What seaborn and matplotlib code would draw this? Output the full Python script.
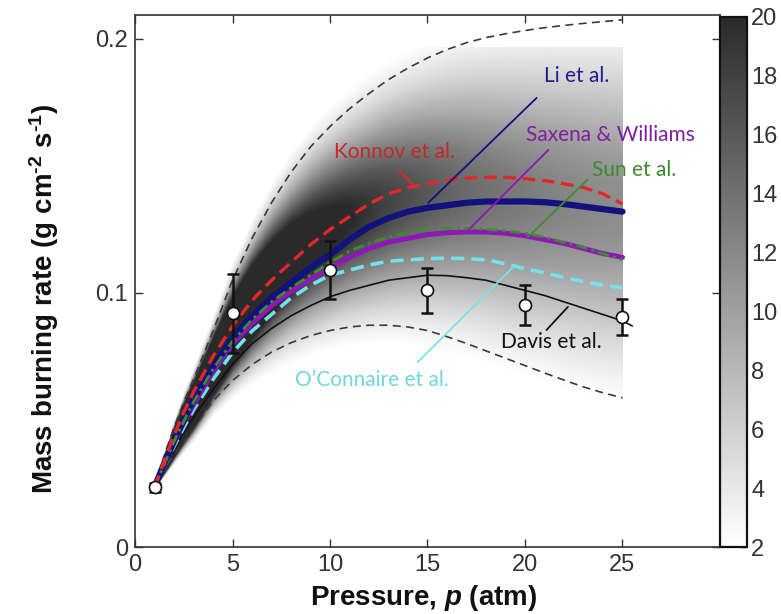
import numpy as np
import pandas as pd
import matplotlib
matplotlib.use("Agg")
import matplotlib.pyplot as plt
from matplotlib.colors import LinearSegmentedColormap
import seaborn as sns

# ---------------- data ----------------
p = [1, 1.5, 2, 2.5, 3, 4, 5, 6, 7, 8, 9, 10, 11, 12, 13, 14, 15, 16, 17, 18, 19, 20, 21, 22, 23, 24, 25]

konnov = [0.0235, 0.034, 0.044, 0.053, 0.061, 0.075, 0.087, 0.097, 0.105, 0.112, 0.119, 0.125, 0.130, 0.135,
          0.139, 0.1415, 0.143, 0.1445, 0.1452, 0.1455, 0.1455, 0.145, 0.1442, 0.143, 0.1415, 0.139, 0.135]
li = [0.0235, 0.033, 0.042, 0.050, 0.058, 0.071, 0.082, 0.091, 0.098, 0.104, 0.110, 0.115, 0.121, 0.126,
      0.1295, 0.132, 0.1335, 0.1345, 0.1355, 0.136, 0.136, 0.136, 0.1357, 0.135, 0.134, 0.133, 0.132]
saxena = [0.0235, 0.032, 0.041, 0.049, 0.056, 0.069, 0.080, 0.088, 0.095, 0.1005, 0.1055, 0.110, 0.114, 0.1175,
          0.120, 0.1215, 0.123, 0.1237, 0.124, 0.124, 0.1235, 0.1225, 0.121, 0.1195, 0.1175, 0.1155, 0.114]
sun = [0.0235, 0.0325, 0.0415, 0.0495, 0.057, 0.070, 0.081, 0.0895, 0.0965, 0.102, 0.107, 0.112, 0.1165, 0.1195,
       0.122, 0.124, 0.125, 0.1255, 0.1255, 0.125, 0.1245, 0.1235, 0.122, 0.120, 0.118, 0.1155, 0.113]
oconnaire = [0.0235, 0.0315, 0.0395, 0.047, 0.054, 0.066, 0.0765, 0.085, 0.0915, 0.098, 0.103, 0.107, 0.109, 0.111,
             0.1125, 0.113, 0.1135, 0.1137, 0.1135, 0.113, 0.1115, 0.1095, 0.108, 0.106, 0.1045, 0.103, 0.102]
p_davis = p + [25.5]
davis = [0.0235, 0.031, 0.038, 0.045, 0.051, 0.062, 0.072, 0.080, 0.086, 0.091, 0.095, 0.0985, 0.101, 0.103,
         0.105, 0.106, 0.107, 0.1068, 0.106, 0.105, 0.103, 0.101, 0.099, 0.0965, 0.094, 0.0915, 0.089, 0.087]
upper = [0.0235, 0.036, 0.047, 0.057, 0.066, 0.085, 0.105, 0.1215, 0.1355, 0.1475, 0.1575, 0.1655, 0.1725, 0.1785,
         0.184, 0.1885, 0.1925, 0.1958, 0.1985, 0.2005, 0.202, 0.2033, 0.2044, 0.2053, 0.2061, 0.2068, 0.2075]
lower = [0.0235, 0.030, 0.036, 0.0415, 0.0465, 0.0575, 0.0655, 0.0718, 0.0767, 0.0804, 0.0832, 0.0852, 0.0866, 0.0873,
         0.0873, 0.0866, 0.0852, 0.0828, 0.0801, 0.0772, 0.0743, 0.0714, 0.0685, 0.0657, 0.063, 0.0607, 0.0587]

exp_p = [1, 5, 10, 15, 20, 25]
exp_m = [0.0235, 0.092, 0.109, 0.101, 0.0953, 0.0906]
exp_err = [0.0018, 0.0155, 0.0115, 0.009, 0.008, 0.007]

cbar_ticks = [2, 4, 6, 8, 10, 12, 14, 16, 18, 20]

# ---------------- style ----------------
sns.set_style("ticks")
plt.rcParams["font.family"] = ["Liberation Sans", "DejaVu Sans"]
plt.rcParams["mathtext.fontset"] = "custom"
plt.rcParams["mathtext.rm"] = "Liberation Sans:bold"
plt.rcParams["mathtext.it"] = "Liberation Sans:bold:italic"
plt.rcParams["mathtext.bf"] = "Liberation Sans:bold"
plt.rcParams["mathtext.default"] = "rm"

W, H = 781, 614
fig = plt.figure(figsize=(W / 100, H / 100), dpi=100)
ax = fig.add_axes([135 / W, 1 - 547 / H, 585 / W, 532 / H])
cax = fig.add_axes([720 / W, 1 - 547 / H, 27 / W, (547 - 17) / H])

XMAX, YMAX = 30, 0.2094

# ---------------- density field (probability density of mass burning rate) ----------------
pa = np.array(p)
ua = np.array(upper)
la = np.array(lower)
xg = np.linspace(1, 25, 400)
yg = np.linspace(0, 0.1965, 700)
U = np.interp(xg, pa, ua)
L = np.interp(xg, pa, la)
mu = L + 0.5 * (U - L)
sig = np.maximum((U - L) / 3.6, 0.0006)
Z = 1.2 * np.exp(-0.5 * ((yg[:, None] - mu[None, :]) / sig[None, :]) ** 2) / (sig[None, :] * np.sqrt(2 * np.pi))
cmap = LinearSegmentedColormap.from_list("g", ["#ffffff", "#2a2a2a"])
cmap.set_under("#ffffff")
im = ax.imshow(Z, extent=[1, 25, 0, 0.1965], origin="lower", aspect="auto", cmap=cmap,
               vmin=2, vmax=20, interpolation="bilinear", zorder=0)

# ---------------- lines ----------------
df = pd.DataFrame({"p": p, "konnov": konnov, "li": li, "saxena": saxena, "sun": sun,
                   "oconnaire": oconnaire, "upper": upper, "lower": lower})
dfd = pd.DataFrame({"p": p_davis, "davis": davis})

def line(data, col, **kw):
    sns.lineplot(data=data, x="p", y=col, ax=ax, estimator=None, sort=False, legend=False, **kw)

line(df, "upper", color="#3a3a3a", lw=1.2, dashes=(4.8, 3.2), zorder=2)
line(df, "lower", color="#3a3a3a", lw=1.2, dashes=(4.8, 3.2), zorder=2)
line(dfd, "davis", color="#111111", lw=1.2, zorder=3)
line(df, "oconnaire", color="#74e2ec", lw=2.6, dashes=(3.6, 2.0), zorder=4)
line(df, "saxena", color="#8e17b5", lw=3.6, zorder=5)
line(df, "sun", color="#3a8f2a", lw=2.0, dashes=(4, 1.6, 1, 1.6), zorder=6)
line(df, "li", color="#12127f", lw=4.5, zorder=5)
line(df, "konnov", color="#e3262a", lw=2.4, dashes=(3.8, 2.0), zorder=6)

# experimental data
ax.errorbar(exp_p, exp_m, yerr=exp_err, fmt="none", ecolor="#111111", elinewidth=1.8,
            capsize=4.5, capthick=1.8, zorder=7)
sns.scatterplot(x=exp_p, y=exp_m, ax=ax, s=75, color="white", edgecolor="#111111",
                linewidth=1.2, zorder=8, legend=False)

# ---------------- labels with leader lines ----------------
afont = ["Lato", "DejaVu Sans"]
ann = [
    ("Li et al.", 22.67, 0.1854, "#1f1f8f", [(20.6, 0.1768), (15.03, 0.1354)], "#12127f"),
    ("Saxena & Williams", 24.4, 0.1622, "#7d1fa0", [(21.2, 0.1563), (17.1, 0.1248)], "#8e17b5"),
    ("Sun et al.", 25.6, 0.1484, "#3f8a2f", [(23.2, 0.1445), (20.15, 0.122)], "#3a8f2a"),
    ("Konnov et al.", 13.33, 0.1555, "#c62828", [(13.5, 0.1484), (14.36, 0.1417)], "#e3262a"),
    ("O\u2019Connaire et al.", 12.15, 0.0657, "#6fd6df", [(14.5, 0.0728), (19.4, 0.1102)], "#74e2ec"),
    ("Davis et al.", 21.33, 0.0807, "#111111", [(21.1, 0.0854), (22.2, 0.0945)], "#111111"),
]
for txt, tx, ty, tc, seg, lc in ann:
    ax.text(tx, ty, txt, color=tc, fontsize=15, family=afont, ha="center", va="center", zorder=9)
    ax.plot([seg[0][0], seg[1][0]], [seg[0][1], seg[1][1]], color=lc, lw=1.3, zorder=9)

# ---------------- axes ----------------
ax.set_xlim(0, XMAX)
ax.set_ylim(0, YMAX)
ax.set_xticks([0, 5, 10, 15, 20, 25])
ax.set_yticks([0, 0.1, 0.2], labels=["0", "0.1", "0.2"])
ax.tick_params(direction="in", top=True, right=True, length=6, width=1.0, color="#333333",
               labelsize=17, labelcolor="#333333", pad=5)
for s in ax.spines.values():
    s.set_color("#333333")
    s.set_linewidth(1.2)
    s.set_visible(True)

ax.set_xlabel(r"Pressure, $\mathit{p}$ (atm)", fontsize=20, fontweight="bold", color="#111111")
ax.set_ylabel(r"Mass burning rate (g cm$^{\text{-2}}$ s$^{\text{-1}}$)", fontsize=20, fontweight="bold",
              color="#111111")
ax.xaxis.set_label_coords(0.493, -0.068)
ax.yaxis.set_label_coords(-0.1265, 0.466)

# ---------------- colorbar ----------------
cb = fig.colorbar(im, cax=cax, ticks=cbar_ticks)
cb.outline.set_linewidth(1.6)
cb.outline.set_edgecolor("#111111")
cax.tick_params(direction="in", length=6, width=1.0, color="#333333", labelsize=17,
                labelcolor="#333333", pad=3)

fig.savefig("out.png", dpi=100)
